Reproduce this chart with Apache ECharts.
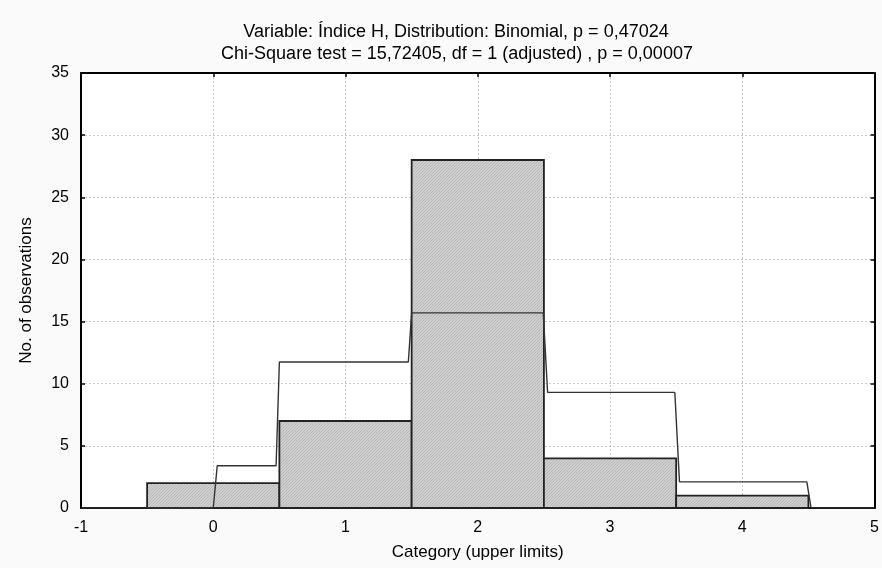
<!DOCTYPE html>
<html>
<head>
<meta charset="utf-8">
<script src="https://cdn.jsdelivr.net/npm/echarts@6/dist/echarts.min.js"></script>
<style>html,body{margin:0;padding:0;background:#fafafa;}#c{width:882px;height:568px;}</style>
</head>
<body>
<div id="c"></div>
<script>
const titleLines = ['Variable: Índice H, Distribution: Binomial, p = 0,47024', 'Chi-Square test = 15,72405, df = 1 (adjusted) , p = 0,00007'];
const categories = [0, 1, 2, 3, 4];
const observed = [2, 7, 28, 4, 1];
const expectedX = [-1, 0, 0.03, 0.475, 0.5, 1.475, 1.5, 2.495, 2.528, 3.49, 3.525, 4.488, 4.52, 5];
const expectedY = [0, 0, 3.4, 3.4, 11.75, 11.75, 15.7, 15.7, 9.3, 9.3, 2.1, 2.1, 0, 0];

const pat = document.createElement('canvas');
pat.width = 3; pat.height = 3;
const pc = pat.getContext('2d');
pc.fillStyle = '#cfcfcf'; pc.fillRect(0, 0, 3, 3);
pc.fillStyle = '#b8b8b8';
for (let i = 0; i < 3; i++) { pc.fillRect(i, 2 - i, 1, 1); }

const chart = echarts.init(document.getElementById('c'), null, {renderer: 'canvas'});
const font = 'Liberation Sans, Arial, sans-serif';
const gridLine = {show: true, lineStyle: {color: '#c8c8c8', type: [2, 2], width: 1}};
const tickStyle = {color: '#000', width: 1.5};
chart.setOption({
  backgroundColor: '#fafafa',
  animation: false,
  title: [
    {text: titleLines[0], left: 451, top: 18, textAlign: 'center', textStyle: {fontFamily: font, fontSize: 18, fontWeight: 'normal', color: '#000'}},
    {text: titleLines[1], left: 452, top: 40, textAlign: 'center', textStyle: {fontFamily: font, fontSize: 18, fontWeight: 'normal', color: '#000'}}
  ],
  grid: {left: 81, right: 1, top: 73, bottom: 60, show: true, backgroundColor: '#fff', borderWidth: 0},
  xAxis: [{
    type: 'value', min: -1, max: 5, interval: 1,
    name: 'Category (upper limits)', nameLocation: 'middle', nameGap: 36,
    nameTextStyle: {fontFamily: font, fontSize: 17, color: '#000'},
    axisLine: {onZero: false, lineStyle: {color: '#000', width: 2}},
    axisTick: {inside: true, length: 4, lineStyle: tickStyle},
    axisLabel: {fontFamily: font, fontSize: 16, color: '#000', margin: 12},
    splitLine: gridLine
  }, {
    type: 'value', min: -1, max: 5, interval: 1, position: 'top',
    axisLine: {onZero: false, lineStyle: {color: '#000', width: 2}},
    axisTick: {inside: true, length: 4, lineStyle: tickStyle},
    axisLabel: {show: false}, splitLine: {show: false}
  }],
  yAxis: [{
    type: 'value', min: 0, max: 35, interval: 5,
    name: 'No. of observations', nameLocation: 'middle', nameGap: 46, nameRotate: 90,
    nameTextStyle: {fontFamily: font, fontSize: 17, color: '#000'},
    axisLine: {show: true, onZero: false, lineStyle: {color: '#000', width: 2}},
    axisTick: {show: true, inside: true, length: 4, lineStyle: tickStyle},
    axisLabel: {fontFamily: font, fontSize: 16, color: '#000', margin: 12},
    splitLine: gridLine
  }, {
    type: 'value', min: 0, max: 35, interval: 5, position: 'right',
    axisLine: {show: true, onZero: false, lineStyle: {color: '#000', width: 2}},
    axisTick: {show: true, inside: true, length: 4, lineStyle: tickStyle},
    axisLabel: {show: false}, splitLine: {show: false}
  }],
  series: [{
    type: 'custom',
    data: categories.map((c, i) => [c, observed[i]]),
    renderItem: function (params, api) {
      const x = api.value(0), v = api.value(1);
      const p1 = api.coord([x - 0.5, v]);
      const p2 = api.coord([x + 0.5, 0]);
      return {
        type: 'rect',
        shape: {x: p1[0], y: p1[1], width: p2[0] - p1[0], height: p2[1] - p1[1]},
        style: {fill: {image: pat, repeat: 'repeat'}, stroke: '#222', lineWidth: 1.8}
      };
    },
    z: 2
  }, {
    type: 'line',
    data: expectedX.map((x, i) => [x, expectedY[i]]),
    symbol: 'none',
    lineStyle: {color: '#333', width: 1.4},
    z: 3
  }]
});
</script>
</body>
</html>
